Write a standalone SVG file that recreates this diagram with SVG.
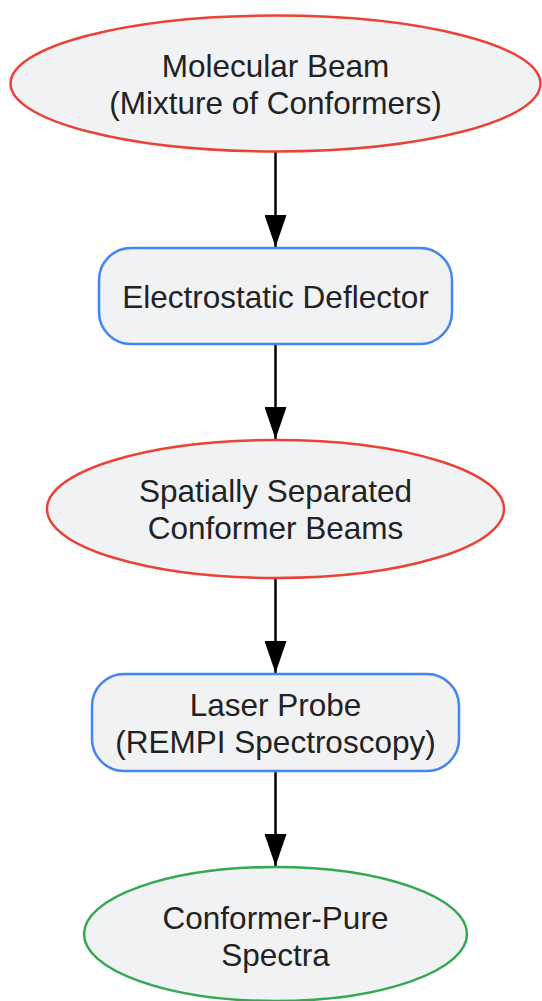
<svg xmlns="http://www.w3.org/2000/svg" width="542" height="1001" viewBox="0 0 542 1001">
<style>
.n{fill:#f1f2f4;stroke-width:2.5}
.red{stroke:#ea4335}
.blue{stroke:#4285f4}
.green{stroke:#34a853}
.t{font-family:"Liberation Sans",Arial,sans-serif;font-size:31.5px;fill:#222;text-anchor:middle}
.e{stroke:#000;stroke-width:2.5;fill:none}
</style>
<defs>
<marker id="ah" markerUnits="userSpaceOnUse" markerWidth="32" markerHeight="22" refX="32" refY="11" orient="auto" viewBox="0 0 32 22">
<path d="M0,0 L32,11 L0,22 Z" fill="#000"/>
</marker>
</defs>
<rect width="542" height="1001" fill="#fff"/>
<g id="connectors">
<line class="e" x1="275.5" y1="152" x2="275.5" y2="247" marker-end="url(#ah)"/>
<line class="e" x1="275.5" y1="344" x2="275.5" y2="439" marker-end="url(#ah)"/>
<line class="e" x1="275.5" y1="578" x2="275.5" y2="673" marker-end="url(#ah)"/>
<line class="e" x1="275.5" y1="771" x2="275.5" y2="866" marker-end="url(#ah)"/>
</g>
<g id="molecular-beam">
<ellipse class="n red" cx="275.5" cy="83.5" rx="265" ry="68"/>
<text class="t" x="275.5" y="77">Molecular Beam</text>
<text class="t" x="275.5" y="114">(Mixture of Conformers)</text>
</g>
<g id="deflector">
<rect class="n blue" x="99" y="248" width="353" height="96" rx="32"/>
<text class="t" x="275.5" y="308">Electrostatic Deflector</text>
</g>
<g id="separated-beams">
<ellipse class="n red" cx="275.5" cy="509" rx="228.5" ry="69"/>
<text class="t" x="275.5" y="502">Spatially Separated</text>
<text class="t" x="275.5" y="539">Conformer Beams</text>
</g>
<g id="laser-probe">
<rect class="n blue" x="92" y="674" width="367" height="97" rx="32"/>
<text class="t" x="275.5" y="716">Laser Probe</text>
<text class="t" x="275.5" y="753">(REMPI Spectroscopy)</text>
</g>
<g id="pure-spectra">
<ellipse class="n green" cx="275.5" cy="934" rx="191.5" ry="67"/>
<text class="t" x="275.5" y="929">Conformer-Pure</text>
<text class="t" x="275.5" y="966">Spectra</text>
</g>
</svg>
